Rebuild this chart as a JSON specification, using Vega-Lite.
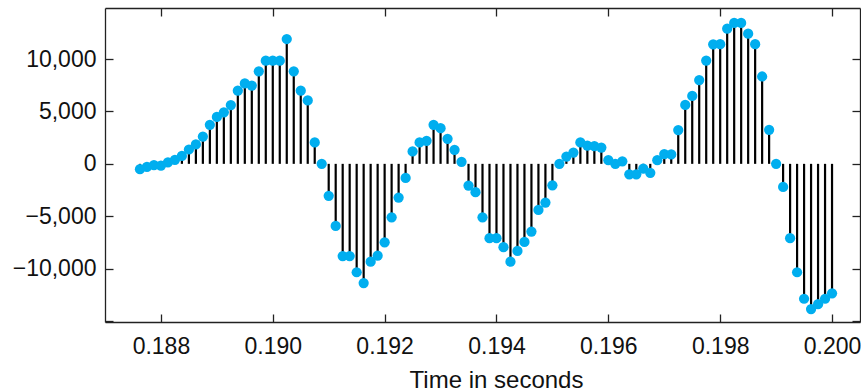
{
  "$schema": "https://vega.github.io/schema/vega-lite/v6.json",
  "autosize": {"type": "none"},
  "width": 755,
  "height": 314,
  "padding": {"left": 105, "top": 8, "right": 1, "bottom": 70},
  "datasets": {
    "s": [
      {"t": 0.187625, "v": -510}, {"t": 0.18775, "v": -280}, {"t": 0.187875, "v": -130}, {"t": 0.188, "v": -160},
      {"t": 0.188125, "v": 150}, {"t": 0.18825, "v": 380}, {"t": 0.188375, "v": 750}, {"t": 0.1885, "v": 1370},
      {"t": 0.188625, "v": 1850}, {"t": 0.18875, "v": 2600}, {"t": 0.188875, "v": 3730}, {"t": 0.189, "v": 4480},
      {"t": 0.189125, "v": 4920}, {"t": 0.18925, "v": 5610}, {"t": 0.189375, "v": 6980}, {"t": 0.1895, "v": 7680},
      {"t": 0.189625, "v": 7480}, {"t": 0.18975, "v": 8830}, {"t": 0.189875, "v": 9850}, {"t": 0.19, "v": 9850},
      {"t": 0.190125, "v": 9850}, {"t": 0.19025, "v": 11920}, {"t": 0.190375, "v": 8830}, {"t": 0.1905, "v": 6980},
      {"t": 0.190625, "v": 6050}, {"t": 0.19075, "v": 2040}, {"t": 0.190875, "v": 0}, {"t": 0.191, "v": -3050},
      {"t": 0.191125, "v": -5930}, {"t": 0.19125, "v": -8800}, {"t": 0.191375, "v": -8800}, {"t": 0.1915, "v": -10350},
      {"t": 0.191625, "v": -11380}, {"t": 0.19175, "v": -9340}, {"t": 0.191875, "v": -8770}, {"t": 0.192, "v": -7490},
      {"t": 0.192125, "v": -5100}, {"t": 0.19225, "v": -3220}, {"t": 0.192375, "v": -1340}, {"t": 0.1925, "v": 1180},
      {"t": 0.192625, "v": 2040}, {"t": 0.19275, "v": 2200}, {"t": 0.192875, "v": 3730}, {"t": 0.193, "v": 3410},
      {"t": 0.193125, "v": 2390}, {"t": 0.19325, "v": 1340}, {"t": 0.193375, "v": 190}, {"t": 0.1935, "v": -2070},
      {"t": 0.193625, "v": -2710}, {"t": 0.19375, "v": -5100}, {"t": 0.193875, "v": -7100}, {"t": 0.194, "v": -7100},
      {"t": 0.194125, "v": -7960}, {"t": 0.19425, "v": -9340}, {"t": 0.194375, "v": -8320}, {"t": 0.1945, "v": -7460},
      {"t": 0.194625, "v": -6470}, {"t": 0.19475, "v": -4400}, {"t": 0.194875, "v": -3700}, {"t": 0.195, "v": -2050},
      {"t": 0.195125, "v": 0}, {"t": 0.19525, "v": 700}, {"t": 0.195375, "v": 1080}, {"t": 0.1955, "v": 2040},
      {"t": 0.195625, "v": 1750}, {"t": 0.19575, "v": 1700}, {"t": 0.195875, "v": 1560}, {"t": 0.196, "v": 350},
      {"t": 0.196125, "v": 0}, {"t": 0.19625, "v": 240}, {"t": 0.196375, "v": -1000}, {"t": 0.1965, "v": -1000},
      {"t": 0.196625, "v": -450}, {"t": 0.19675, "v": -860}, {"t": 0.196875, "v": 350}, {"t": 0.197, "v": 930},
      {"t": 0.197125, "v": 900}, {"t": 0.19725, "v": 3220}, {"t": 0.197375, "v": 5620}, {"t": 0.1975, "v": 6480},
      {"t": 0.197625, "v": 8000}, {"t": 0.19775, "v": 9860}, {"t": 0.197875, "v": 11410}, {"t": 0.198, "v": 11420},
      {"t": 0.198125, "v": 12900}, {"t": 0.19825, "v": 13450}, {"t": 0.198375, "v": 13450}, {"t": 0.1985, "v": 12430},
      {"t": 0.198625, "v": 11420}, {"t": 0.19875, "v": 8340}, {"t": 0.198875, "v": 3250}, {"t": 0.199, "v": 0},
      {"t": 0.199125, "v": -2200}, {"t": 0.19925, "v": -7100}, {"t": 0.199375, "v": -10350}, {"t": 0.1995, "v": -12880},
      {"t": 0.199625, "v": -13870}, {"t": 0.19975, "v": -13400}, {"t": 0.199875, "v": -12880}, {"t": 0.2, "v": -12360}
    ]
  },
  "data": {"name": "s"},
  "config": {
    "view": {"stroke": null},
    "axis": {
      "grid": false,
      "domainColor": "#222",
      "domainWidth": 1.3,
      "tickColor": "#222",
      "tickWidth": 1.3,
      "tickSize": -8,
      "labelFont": "Liberation Sans",
      "labelFontSize": 23,
      "labelColor": "#111",
      "titleFont": "Liberation Sans",
      "titleFontSize": 24,
      "titleFontWeight": "normal",
      "titleColor": "#111"
    }
  },
  "layer": [
    {
      "mark": {"type": "rule", "color": "black", "strokeWidth": 2.2},
      "encoding": {
        "x": {
          "field": "t", "type": "quantitative",
          "scale": {"domain": [0.187, 0.2005], "nice": false, "zero": false},
          "axis": {
            "orient": "bottom",
            "values": [0.188, 0.19, 0.192, 0.194, 0.196, 0.198, 0.2],
            "format": ".3f",
            "labelPadding": 21,
            "title": "Time in seconds",
            "titleX": 391,
            "titleY": 65,
            "titleBaseline": "alphabetic",
            "titleAnchor": "middle"
          }
        },
        "y": {
          "field": "v", "type": "quantitative",
          "scale": {"domain": [-15100, 14880], "nice": false, "zero": false},
          "axis": {
            "orient": "left",
            "values": [-15000, -10000, -5000, 0, 5000, 10000],
            "format": ",d",
            "labelExpr": "datum.value == -15000 ? '' : datum.label",
            "labelPadding": 17,
            "title": null
          }
        },
        "y2": {"datum": 0}
      }
    },
    {
      "mark": {"type": "circle", "size": 105, "color": "#00AEEF", "opacity": 1},
      "encoding": {
        "x": {
          "field": "t", "type": "quantitative",
          "axis": {"orient": "top", "labels": false, "title": null, "values": [0.188, 0.19, 0.192, 0.194, 0.196, 0.198, 0.2]}
        },
        "y": {
          "field": "v", "type": "quantitative",
          "axis": {"orient": "right", "labels": false, "title": null, "values": [-15000, -10000, -5000, 0, 5000, 10000]}
        }
      }
    }
  ],
  "resolve": {"axis": {"x": "independent", "y": "independent"}}
}
